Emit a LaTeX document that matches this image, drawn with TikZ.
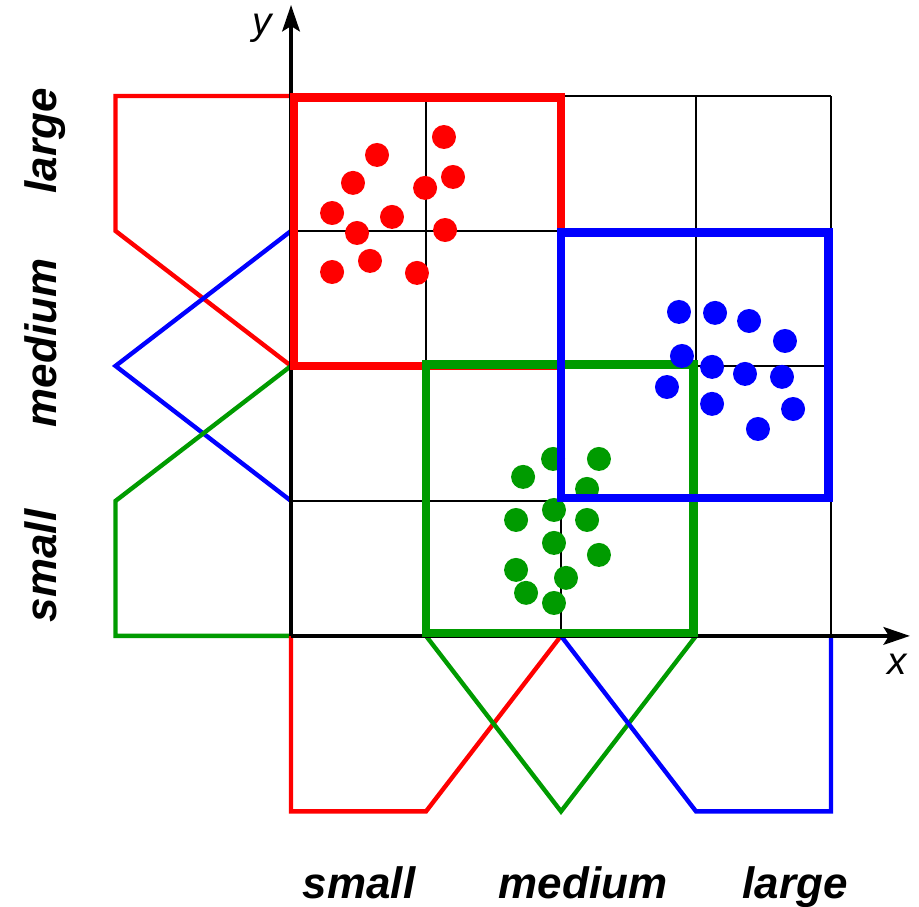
\documentclass[tikz,border=0pt]{standalone}
\usepackage{fontspec}
\setmainfont{Liberation Sans}
\usetikzlibrary{arrows.meta}
\definecolor{cred}{RGB}{255,0,0}
\definecolor{cgreen}{RGB}{0,155,0}
\definecolor{cblue}{RGB}{0,0,255}

\begin{document}
\begin{tikzpicture}[x=2.7cm, y=2.7cm, >={Stealth[length=15pt, width=10pt, inset=3pt]},
  mf/.style={line width=2.5pt},
  clusterbox/.style={line width=4.8pt},
  term/.style={font=\fontsize{25}{30}\selectfont\bfseries\itshape, inner sep=0pt, anchor=base},
  axlabel/.style={font=\fontsize{22}{26}\selectfont\itshape, inner sep=0pt, anchor=base}]
\useasboundingbox (-2.156,-2.007) rectangle (4.652,4.711);
\coordinate (O) at (0,0);
\coordinate (X) at (4.585,0);   % tip of x axis
\coordinate (Y) at (0,4.674);   % tip of y axis
\draw[line width=0.7pt, step=2.7cm] (O) grid (4,4);
% membership functions along y
\draw[mf, cred] (0,4) -- (-1.3,4) -- (-1.3,3) -- (0,2);
\draw[mf, cblue] (0,3) -- (-1.3,2) -- (0,1);
\draw[mf, cgreen] (0,2) -- (-1.3,1) -- (-1.3,0) -- (O);
% membership functions along x
\draw[mf, cred] (O) -- (0,-1.3) -- (1,-1.3) -- (2,0);
\draw[mf, cgreen] (1,0) -- (2,-1.3) -- (3,0);
\draw[mf, cblue] (2,0) -- (3,-1.3) -- (4,-1.3) -- (4,0);
\draw[->, line width=2.2pt] (O) -- (X);
\draw[->, line width=2.2pt] (O) -- (Y);
\node[axlabel] (xlab) at (4.489,-0.289) {x};
\node[axlabel] (ylab) at (-0.215,4.452) {y};
% clusters: x small / y large
\draw[clusterbox, cred] (0.02,2) rectangle (2,3.99);
\foreach \px/\py in {1.133/3.696, 0.637/3.563, 0.459/3.356, 1.2/3.4, 0.993/3.319,
  0.304/3.133, 0.748/3.104, 0.489/2.985, 1.141/3.007, 0.585/2.778, 0.304/2.696, 0.933/2.689}
  \fill[cred] (\px,\py) circle (0.24cm);
% x medium / y small
\draw[clusterbox, cgreen] (1,0.02) rectangle (2.98,2.01);
\foreach \px/\py in {1.941/1.311, 2.281/1.311, 1.719/1.178, 2.193/1.089, 1.667/0.859,
  1.948/0.933, 2.193/0.859, 1.948/0.689, 2.281/0.6, 1.667/0.489, 2.037/0.43,
  1.741/0.319, 1.948/0.244}
  \fill[cgreen] (\px,\py) circle (0.24cm);
% x large / y medium
\draw[clusterbox, cblue] (2,1.02) rectangle (3.98,2.99);
\foreach \px/\py in {2.874/2.4, 3.141/2.393, 3.393/2.333, 3.659/2.185, 2.896/2.074,
  3.119/1.993, 3.363/1.941, 3.637/1.919, 2.785/1.844, 3.119/1.719, 3.719/1.681, 3.459/1.533}
  \fill[cblue] (\px,\py) circle (0.24cm);
% linguistic terms
\node[term] (xsmall) at (0.504,-1.948) {small};
\node[term] (xmedium) at (2.163,-1.948) {medium};
\node[term] (xlarge) at (3.733,-1.948) {large};
\node[term, rotate=90] (ysmall) at (-1.741,0.519) {small};
\node[term, rotate=90] (ymedium) at (-1.741,2.170) {medium};
\node[term, rotate=90] (ylarge) at (-1.741,3.667) {large};
\end{tikzpicture}
\end{document}
